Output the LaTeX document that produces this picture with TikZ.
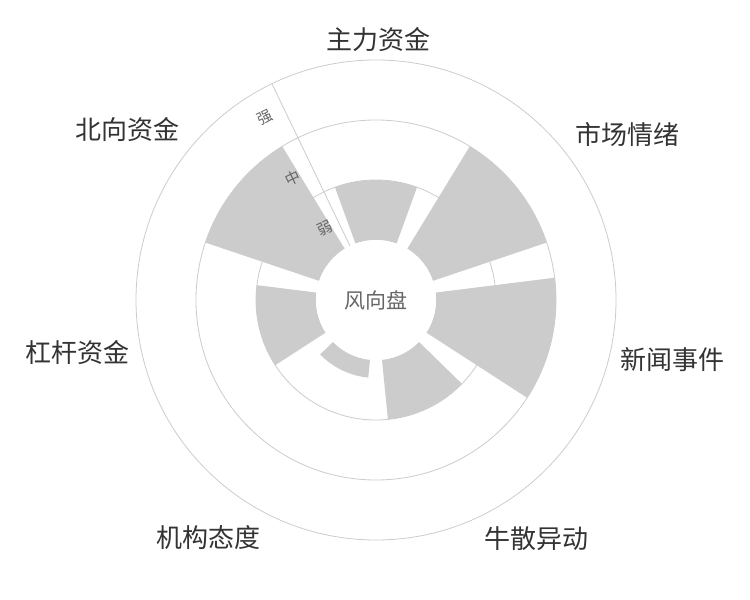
\documentclass[tikz,border=0pt]{standalone}
\usepackage{fontspec}
\setmainfont{Noto Sans CJK SC}
\usetikzlibrary{calc}
\definecolor{ringc}{HTML}{CCCCCC}
\definecolor{barc}{HTML}{CCCCCC}
\definecolor{txt}{HTML}{333333}
\definecolor{subt}{HTML}{666666}
\newcommand\mysect[3]{\fill[barc] ($(C)+(#1:60)$) arc[start angle=#1,end angle=#2,radius=60] -- ($(C)+(#2:#3)$) arc[start angle=#2,end angle=#1,radius=#3] -- cycle;}
\begin{document}
\begin{tikzpicture}[x=1pt,y=1pt,
  ring/.style={draw=ringc,line width=0.8pt},
  cat/.style={text=txt,font=\fontsize{26}{26}\selectfont,inner sep=0pt},
  ax/.style={text=subt,font=\fontsize{15}{15}\selectfont,inner sep=0pt,rotate=25.7}]
\useasboundingbox (0,0) rectangle (750,600);
\fill[white] (0,0) rectangle (750,600);
\coordinate (C) at (376,300);
\foreach \r in {120,180,240} \draw[ring] (C) circle[radius=\r];
\draw[ring] ($(C)+(115.7:60)$) -- ($(C)+(115.7:240)$);
\mysect{70}{110}{120}
\mysect{18.6}{58.6}{180}
\mysect{-32.9}{7.1}{180}
\mysect{-84.3}{-44.3}{120}
\mysect{-135.7}{-95.7}{78}
\mysect{172.9}{212.9}{120}
\mysect{121.4}{161.4}{180}
\fill[white] (C) circle[radius=60];
\node[text=subt,font=\fontsize{21}{21}\selectfont] (hub) at (C) {风向盘};
\node[ax] (weak) at (325,372) {弱};
\node[ax] (mid) at (293,422) {中};
\node[ax] (strong) at (265,482) {强};
\node[cat] (l1) at (378,560) {主力资金};
\node[cat] (l2) at (627,465) {市场情绪};
\node[cat] (l3) at (672,240) {新闻事件};
\node[cat] (l4) at (536,61) {牛散异动};
\node[cat] (l5) at (208,62) {机构态度};
\node[cat] (l6) at (77,247) {杠杆资金};
\node[cat] (l7) at (127,470) {北向资金};
\end{tikzpicture}
\end{document}
